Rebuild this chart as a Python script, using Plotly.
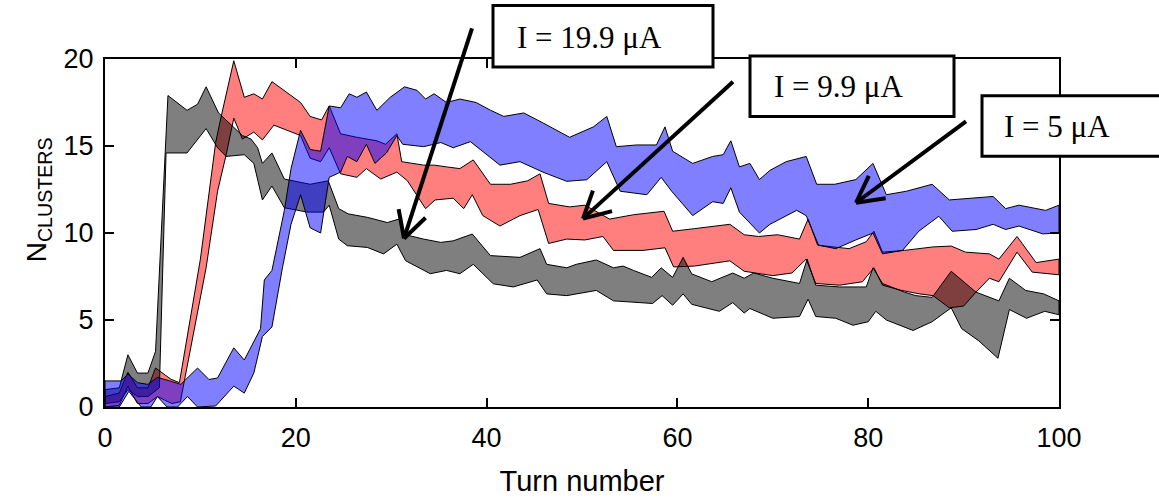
import math
import plotly.graph_objects as go

# ---------------- data (turn, N_clusters) ----------------
grey_upper = [(0, 1.0), (1.5, 1.1), (2.4, 3.0), (3.4, 1.95), (4.5, 1.95), (5.3, 3.2), (6.6, 17.9),
              (8.6, 17.05), (9.7, 17.4), (10.6, 18.4), (11.9, 16.9), (13.2, 16.2), (14.4, 15.6),
              (15.3, 15.4), (16.0, 14.9), (16.5, 14.0), (17.5, 14.6), (18.8, 13.1), (20.5, 12.9),
              (21.5, 12.8), (23.4, 13.0), (24.5, 11.4), (25.5, 11.1), (27.5, 10.9), (29.6, 10.6),
              (30.8, 10.8), (31.5, 9.9), (33.4, 9.65), (35.2, 9.46), (36.5, 9.55), (38.5, 9.94),
              (40.4, 8.7), (43.5, 8.6), (45.6, 9.1), (46.3, 8.2), (48.4, 8.0), (49.4, 8.2),
              (51.5, 8.45), (53.3, 8.0), (54.3, 8.1), (55.4, 7.85), (57.3, 7.45), (58.3, 8.0),
              (59.5, 7.45), (60.6, 8.6), (61.5, 7.65), (63.6, 7.2), (65.8, 7.7), (67.0, 7.4),
              (68.0, 7.7), (70.0, 7.4), (72.8, 7.1), (73.6, 8.5), (74.5, 7.0), (77.0, 6.9),
              (79.8, 6.9), (80.5, 8.0), (81.5, 7.1), (83.8, 6.6), (85.0, 6.4), (86.7, 6.3),
              (88.7, 7.8), (91.3, 6.6), (93.7, 6.1), (94.8, 7.4), (96.5, 6.7), (98.4, 6.5), (100, 6.1)]
grey_lower = [(0, 0.2), (1.5, 0.3), (2.4, 1.0), (3.4, 0.6), (4.5, 0.6), (5.7, 1.1), (6.4, 14.6),
              (8.6, 14.6), (10.6, 16.0), (11.8, 14.9), (12.7, 14.4), (14.6, 14.5), (15.6, 14.0),
              (16.5, 11.9), (17.5, 12.7), (18.8, 11.45), (21.2, 11.2), (22.9, 11.2), (23.5, 11.6),
              (24.5, 9.65), (25.4, 9.27), (27.5, 9.17), (29.2, 8.8), (30.6, 9.36), (31.5, 8.41),
              (34.1, 7.66), (35.8, 7.85), (37.2, 7.66), (38.6, 8.2), (40.7, 7.08), (42.8, 6.9),
              (45.3, 7.3), (46.3, 6.5), (48.4, 6.4), (51.5, 6.7), (53.3, 6.1), (57.4, 5.95),
              (58.4, 6.4), (59.5, 5.85), (60.6, 6.5), (61.5, 5.9), (64.4, 5.5), (65.8, 6.0),
              (67.0, 5.4), (67.6, 5.66), (70.0, 5.1), (72.8, 5.2), (73.7, 6.2), (74.5, 5.2),
              (76.6, 5.1), (78.4, 4.7), (80.0, 4.9), (80.8, 5.5), (81.9, 5.0), (84.7, 4.4),
              (86.7, 4.9), (88.7, 5.7), (89.8, 4.5), (91.6, 3.8), (93.6, 2.8), (94.8, 5.6),
              (96.6, 5.1), (98.5, 5.5), (100, 5.3)]

red_upper = [(0, 0.6), (1.5, 0.8), (2.4, 2.0), (3.4, 1.1), (4.5, 1.1), (5.3, 2.24), (6.9, 1.6),
             (7.8, 1.4), (10.0, 8.5), (11.6, 15.2), (12.1, 16.5), (13.5, 19.9), (14.6, 17.8),
             (15.6, 18.0), (16.5, 17.7), (17.5, 18.7), (20.5, 17.5), (21.5, 16.7), (22.7, 16.5),
             (23.5, 17.3), (24.7, 15.7), (26.4, 15.5), (28.5, 15.3), (29.4, 15.1), (30.6, 15.7),
             (31.1, 14.1), (33.4, 13.9), (34.5, 13.9), (35.8, 13.8), (37.2, 13.7), (38.6, 14.2),
             (40.4, 12.8), (42.5, 12.8), (44.3, 13.0), (45.6, 13.4), (46.5, 11.7), (48.7, 11.5),
             (50.3, 11.6), (52.9, 10.8), (55.4, 11.05), (58.6, 11.25), (59.5, 10.1), (61.8, 10.25),
             (65.5, 10.5), (67.0, 9.9), (68.5, 9.8), (70.5, 9.9), (72.8, 9.65), (73.7, 10.8),
             (74.7, 9.3), (78.0, 9.1), (79.8, 9.5), (80.6, 10.1), (81.5, 8.9), (83.8, 9.0),
             (86.8, 9.2), (88.7, 9.25), (90.2, 8.9), (92.7, 8.8), (93.7, 8.5), (95.6, 9.8),
             (97.6, 8.3), (100, 8.5)]
red_lower = [(0, 0.0), (1.5, 0.1), (2.4, 1.2), (3.4, 0.2), (4.5, 0.2), (5.5, 0.6), (7.0, 0.2),
             (7.9, 0.3), (10.6, 8.0), (11.8, 12.4), (12.7, 14.5), (13.5, 16.6), (14.4, 15.4),
             (15.6, 15.8), (16.5, 15.35), (17.7, 16.2), (20.5, 15.6), (21.5, 14.3), (22.6, 14.1),
             (23.5, 14.9), (24.7, 13.4), (26.4, 13.2), (27.4, 13.7), (28.9, 13.1), (30.6, 13.5),
             (31.7, 13.0), (33.6, 11.4), (34.6, 11.9), (36.5, 12.0), (37.6, 11.4), (38.5, 12.2),
             (39.6, 11.0), (41.4, 10.4), (43.5, 11.0), (45.4, 11.35), (46.5, 9.4), (48.4, 9.65),
             (50.3, 9.6), (52.2, 9.8), (53.3, 9.0), (56.4, 9.0), (58.7, 9.15), (59.6, 8.05),
             (61.8, 8.1), (65.5, 8.4), (67.0, 7.8), (70.0, 7.55), (72.0, 7.7), (73.5, 8.5),
             (74.5, 7.1), (77.0, 7.0), (79.4, 7.2), (80.6, 8.0), (81.5, 7.0), (83.5, 6.7),
             (85.4, 6.5), (86.8, 6.4), (88.5, 5.7), (90.0, 5.8), (91.3, 6.6), (92.7, 7.4),
             (93.7, 7.2), (95.6, 8.9), (97.2, 7.75), (100, 7.6)]

blue_upper = [(0, 1.5), (1.7, 1.5), (2.4, 1.9), (3.4, 1.4), (4.5, 1.3), (5.5, 1.7), (6.8, 1.5),
              (7.95, 1.3), (9.7, 2.24), (10.9, 1.58), (11.8, 1.67), (13.5, 3.4), (14.6, 2.7),
              (16.3, 4.5), (16.7, 7.3), (17.5, 7.85), (18.8, 11.3), (19.5, 13.7), (20.5, 15.9),
              (21.5, 14.8), (22.6, 14.7), (23.5, 17.3), (24.7, 17.2), (25.6, 18.0), (26.4, 17.8),
              (27.4, 18.1), (28.5, 17.05), (29.9, 17.8), (31.4, 18.4), (32.7, 18.2), (33.6, 17.7),
              (34.5, 18.0), (35.8, 17.5), (37.2, 17.7), (38.9, 17.5), (40.4, 17.06), (41.8, 16.7),
              (43.9, 16.9), (46.0, 16.3), (48.7, 15.5), (51.2, 16.1), (52.6, 16.7), (53.6, 14.96),
              (55.7, 15.06), (57.8, 15.06), (58.7, 16.1), (59.5, 14.7), (61.6, 14.0), (63.7, 14.4),
              (64.8, 14.5), (65.6, 15.3), (66.5, 13.8), (67.6, 14.0), (68.6, 13.07), (69.7, 13.6),
              (71.4, 14.1), (73.5, 14.4), (74.6, 12.8), (76.5, 12.8), (78.7, 13.07), (80.5, 14.0),
              (81.9, 12.2), (84.0, 12.4), (86.7, 12.8), (88.5, 11.9), (91.3, 12.0), (93.1, 12.1),
              (94.4, 11.4), (95.8, 11.6), (98.6, 11.3), (100, 11.6)]
blue_lower = [(0, 0.0), (1.5, 0.0), (2.5, 0.9), (3.8, 0.0), (4.8, 0.0), (5.5, 0.6), (6.5, 0.0),
              (7.6, 0.0), (8.65, 0.6), (9.7, 0.0), (11.6, 0.06), (13.5, 1.2), (14.6, 0.8),
              (15.6, 1.95), (16.5, 4.05), (17.5, 4.6), (18.6, 8.0), (19.5, 10.5), (20.5, 12.2),
              (21.5, 10.3), (22.6, 10.0), (23.5, 13.2), (24.7, 13.5), (25.4, 14.4), (26.4, 14.1),
              (27.4, 15.1), (28.3, 14.0), (29.5, 14.6), (30.6, 15.6), (31.2, 15.1), (33.4, 14.96),
              (35.2, 15.2), (36.5, 14.9), (38.3, 15.25), (41.4, 13.9), (43.5, 14.1), (45.9, 13.5),
              (48.4, 12.97), (50.5, 13.06), (52.6, 14.1), (54.0, 12.4), (56.8, 12.2), (58.3, 13.2),
              (59.4, 12.4), (61.6, 11.0), (63.7, 11.8), (64.8, 11.7), (65.6, 12.6), (66.5, 11.2),
              (68.6, 10.0), (69.7, 10.5), (72.5, 11.3), (73.5, 11.0), (74.8, 9.3), (76.6, 9.1),
              (78.7, 9.6), (80.5, 10.0), (81.5, 8.8), (83.6, 9.0), (85.3, 10.1), (87.4, 10.96),
              (88.8, 10.1), (91.3, 10.2), (93.1, 10.5), (94.4, 10.2), (95.8, 10.4), (98.3, 9.95),
              (100, 10.0)]

x_ticks = [0, 20, 40, 60, 80, 100]
y_ticks = [0, 5, 10, 15, 20]
labels = ["I = 19.9 μA", "I = 9.9 μA", "I = 5 μA"]

# ---------------- figure ----------------
W, H = 1159, 504
L, R, T, B = 105, 100, 59, 94
PW, PH = W - L - R, H - T - B


def px(x):
    return (x - L) / PW


def py(y):
    return (H - B - y) / PH


def band(upper, lower, fill):
    xs = [p[0] for p in upper] + [p[0] for p in reversed(lower)] + [upper[0][0]]
    ys = [p[1] for p in upper] + [p[1] for p in reversed(lower)] + [upper[0][1]]
    return go.Scatter(x=xs, y=ys, mode="lines", fill="toself", fillcolor=fill,
                      line=dict(color="black", width=1), hoverinfo="skip", showlegend=False)


fig = go.Figure()
fig.add_trace(band(red_upper, red_lower, "rgba(255,0,0,0.5)"))
fig.add_trace(band(grey_upper, grey_lower, "rgba(0,0,0,0.5)"))
fig.add_trace(band(blue_upper, blue_lower, "rgba(0,0,255,0.5)"))

axis_common = dict(showline=True, linewidth=2, linecolor="black", mirror="allticks",
                   ticks="inside", ticklen=9, tickwidth=1.5, tickcolor="black",
                   showgrid=False, zeroline=False,
                   tickfont=dict(family="Liberation Sans", size=27, color="black"))

fig.update_layout(
    width=W, height=H, margin=dict(l=L, r=R, t=T, b=B),
    paper_bgcolor="white", plot_bgcolor="white",
    xaxis=dict(range=[0, 100], tickvals=x_ticks, ticklabelstandoff=6,
               title=dict(text="Turn number", standoff=18,
                          font=dict(family="Liberation Sans", size=29, color="black")),
               **axis_common),
    yaxis=dict(range=[0, 20], tickvals=y_ticks, ticklabelstandoff=4, **axis_common),
)

# y-axis label
fig.add_annotation(x=px(19), y=py(201), xref="paper", yref="paper", showarrow=False,
                   text="N<sub>CLUSTERS</sub>", textangle=-90,
                   font=dict(family="Liberation Sans", size=28, color="black"))

# label boxes (pixel geometry)
boxes = [(493, 5, 713, 67), (750, 56, 954, 117), (982, 96, 1220, 157)]
text_centers = [(589, 37), (838, 87), (1057, 127)]
arrows = [((472, 28), (404, 240)), ((733, 82), (583, 220)), ((966, 122), (856, 204))]

shapes = []
for (x0, y0, x1, y1) in boxes:
    shapes.append(dict(type="rect", xref="paper", yref="paper", x0=px(x0), x1=px(x1),
                       y0=py(y1), y1=py(y0), fillcolor="white",
                       line=dict(color="black", width=3), layer="above"))
for (tx, ty), (hx, hy) in arrows:
    shapes.append(dict(type="line", xref="paper", yref="paper", x0=px(tx), y0=py(ty),
                       x1=px(hx), y1=py(hy), line=dict(color="black", width=4), layer="above"))
    ang = math.atan2(ty - hy, tx - hx)
    for d in (-0.49, 0.49):
        ax = hx + 30 * math.cos(ang + d)
        ay = hy + 30 * math.sin(ang + d)
        shapes.append(dict(type="line", xref="paper", yref="paper", x0=px(hx), y0=py(hy),
                           x1=px(ax), y1=py(ay), line=dict(color="black", width=4),
                           layer="above"))
fig.update_layout(shapes=shapes)

for lab, (cx, cy) in zip(labels, text_centers):
    fig.add_annotation(x=px(cx), y=py(cy), xref="paper", yref="paper", showarrow=False,
                       text=lab, xanchor="center", yanchor="middle",
                       font=dict(family="Liberation Serif", size=31, color="black"))

fig.write_html("out.html")
